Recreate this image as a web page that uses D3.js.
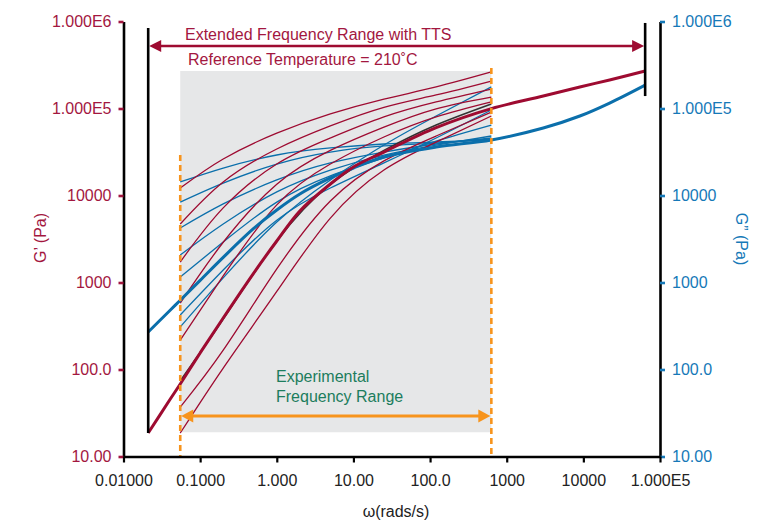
<!DOCTYPE html>
<html><head><meta charset="utf-8">
<script src="https://cdn.jsdelivr.net/npm/d3@7"></script>
<style>
body{margin:0;background:#fff}
svg{display:block;font-family:"Liberation Sans",Arial,Helvetica,sans-serif}
</style>
</head><body>
<svg id="chart" width="782" height="520"></svg>
<script>
// ---------- data ----------
const xTickValues = [0.01, 0.1, 1, 10, 100, 1000, 10000, 100000];
const xTickLabels = ["0.01000", "0.1000", "1.000", "10.00", "100.0", "1000", "10000", "1.000E5"];
const yTickValues = [10, 100, 1000, 10000, 100000, 1000000];
const yTickLabels = ["10.00", "100.0", "1000", "10000", "1.000E5", "1.000E6"];

// master curves (TTS shifted, reference 210 °C)
const masterOmega = [0.021, 0.04, 0.055, 0.1, 0.2, 0.5, 1, 2, 5, 10, 25, 120, 630, 3000, 9000, 22000, 64000];
const masterGp  = [18.6, 44.6, 68.1, 155, 391, 1285, 3000, 6640, 13550, 21300, 31600, 60300, 99800, 139000, 177000, 213000, 270000];
const masterGpp = [270, 474, 626, 1057, 1945, 4180, 6810, 10400, 15900, 20700, 27700, 36100, 43500, 59700, 82000, 115600, 186000];

// individual temperature runs over the experimental range
const expOmega = [0.055, 0.2, 1, 5, 25, 120, 630];
const gp1 = [12200, 26300, 52000, 86500, 128000, 177000, 263000];
const gp2 = [4700, 14300, 34200, 63000, 103000, 143000, 207000];
const gp3 = [1720, 7200, 23000, 45800, 80000, 119000, 167000];
const gp4 = [580, 2900, 13500, 33000, 61000, 99000, 135000];
const gp5 = [218, 1190, 7800, 23000, 47000, 80000, 119000];
const gp6 = [37, 167, 1430, 8650, 25000, 48300, 91000];
const gp7 = [18.6, 104, 790, 5500, 19600, 41000, 82000];
const gpRef = [74, 380, 3000, 13400, 33000, 64600, 112700];
const gpp1 = [14300, 20700, 29200, 35200, 39100, 41200, 43500];
const gpp2 = [8400, 13900, 23000, 31600, 37100, 40100, 44600];
const gpp3 = [4230, 8000, 15100, 23700, 31600, 39100, 45800];
const gpp4 = [2070, 4700, 11000, 19600, 29200, 38000, 48300];
const gpp5 = [1160, 2920, 8400, 16800, 27000, 42300, 64600];
const gpp6 = [423, 1390, 5200, 12200, 23700, 45800, 96000];
const gpp7 = [308, 1130, 4950, 15100, 38000, 82000, 177000];

// annotation extents (data units)
const expRange = [0.055, 630];        // experimental frequency range
const ttsRange = [0.021, 64000];      // extended range with TTS

// ---------- drawing ----------
const RED = "#9e0b31", RED_TXT = "#a3173f", BLUE = "#0b6fab", BLUE_TXT = "#1679b8",
      ORANGE = "#f7941d", GREEN = "#1c7d5d", GREY = "#e6e7e8";

const svg = d3.select("#chart");
const x = d3.scaleLog().domain([0.01, 1e5]).range([123.5, 660]);
const y = d3.scaleLog().domain([10, 1e6]).range([456.5, 21.5]);

const thinLine = d3.line().x(d => x(d[0])).y(d => y(d[1])).curve(d3.curveNatural);
const masterLine = d3.line().x(d => x(d[0])).y(d => y(d[1])).curve(d3.curveCatmullRom.alpha(0.5));
const zip = (a, b) => a.map((v, i) => [v, b[i]]);

// grey experimental window
svg.append("rect")
  .attr("x", x(expRange[0])).attr("y", y(270000))
  .attr("width", x(expRange[1]) - x(expRange[0]))
  .attr("height", y(19) - y(270000))
  .attr("fill", GREY);

// thin runs
const gppRuns = [gpp1, gpp2, gpp3, gpp4, gpp5, gpp6, gpp7];
const gpRuns = [gp1, gp2, gp3, gp4, gp5, gp6, gp7];
const thin = svg.append("g").attr("fill", "none").attr("stroke-width", 1.3);
gppRuns.forEach(s => thin.append("path").attr("d", thinLine(zip(expOmega, s))).attr("stroke", BLUE));
gpRuns.forEach(s => thin.append("path").attr("d", thinLine(zip(expOmega, s))).attr("stroke", RED));
thin.append("path").attr("d", thinLine(zip(expOmega, gpRef))).attr("stroke", "#333").attr("stroke-width", 1.6);

// master curves
svg.append("path").attr("d", masterLine(zip(masterOmega, masterGpp)))
  .attr("fill", "none").attr("stroke", BLUE).attr("stroke-width", 3);
svg.append("path").attr("d", masterLine(zip(masterOmega, masterGp)))
  .attr("fill", "none").attr("stroke", RED).attr("stroke-width", 3);

// orange dashed limits
svg.append("line").attr("x1", x(expRange[0])).attr("x2", x(expRange[0]))
  .attr("y1", y(29200)).attr("y2", y(10))
  .attr("stroke", ORANGE).attr("stroke-width", 2.6).attr("stroke-dasharray", "6,4");
svg.append("line").attr("x1", x(expRange[1])).attr("x2", x(expRange[1]))
  .attr("y1", y(292000)).attr("y2", y(10))
  .attr("stroke", ORANGE).attr("stroke-width", 2.6).attr("stroke-dasharray", "6,4");

// black bars of the TTS range
svg.append("line").attr("x1", x(ttsRange[0])).attr("x2", x(ttsRange[0]))
  .attr("y1", y(841000)).attr("y2", y(18.6)).attr("stroke", "#000").attr("stroke-width", 2.6);
svg.append("line").attr("x1", x(ttsRange[1])).attr("x2", x(ttsRange[1]))
  .attr("y1", y(962000)).attr("y2", y(139000)).attr("stroke", "#000").attr("stroke-width", 2.6);

function doubleArrow(x1, x2, yy, color, w, hl, hw) {
  const g = svg.append("g");
  g.append("line").attr("x1", x1 + hl - 1).attr("x2", x2 - hl + 1).attr("y1", yy).attr("y2", yy)
    .attr("stroke", color).attr("stroke-width", w);
  g.append("path").attr("d", `M${x1},${yy}L${x1 + hl},${yy - hw}L${x1 + hl},${yy + hw}Z`).attr("fill", color);
  g.append("path").attr("d", `M${x2},${yy}L${x2 - hl},${yy - hw}L${x2 - hl},${yy + hw}Z`).attr("fill", color);
}
doubleArrow(x(ttsRange[0]) + 1, x(ttsRange[1]) - 1, y(522000), RED, 2.6, 12, 6);
doubleArrow(x(expRange[0]) + 1, x(expRange[1]) - 1, y(29.2), ORANGE, 3, 12, 6.5);

// axes
const fs = "16px";
const left = svg.append("g").attr("transform", "translate(123.5,0)")
  .call(d3.axisLeft(y).tickValues(yTickValues).tickFormat((d, i) => yTickLabels[i]).tickSize(5).tickSizeOuter(0).tickPadding(7));
left.select(".domain").attr("stroke", "#000").attr("stroke-width", 2.6);
left.selectAll(".tick line").attr("stroke", RED_TXT).attr("stroke-width", 2.6);
left.selectAll(".tick text").attr("fill", RED_TXT).style("font-size", fs).style("font-family", "inherit");

const right = svg.append("g").attr("transform", "translate(660,0)")
  .call(d3.axisRight(y).tickValues(yTickValues).tickFormat((d, i) => yTickLabels[i]).tickSize(5).tickSizeOuter(0).tickPadding(7));
right.select(".domain").attr("stroke", "#000").attr("stroke-width", 2.6);
right.selectAll(".tick line").attr("stroke", BLUE_TXT).attr("stroke-width", 2.6);
right.selectAll(".tick text").attr("fill", BLUE_TXT).style("font-size", fs).style("font-family", "inherit");

const bottom = svg.append("g").attr("transform", "translate(0,456.5)")
  .call(d3.axisBottom(x).tickValues(xTickValues).tickFormat((d, i) => xTickLabels[i]).tickSize(6).tickSizeOuter(0).tickPadding(12));
bottom.select(".domain").attr("stroke", "#000").attr("stroke-width", 2.6);
bottom.selectAll(".tick line").attr("stroke", "#000").attr("stroke-width", 2.2);
bottom.selectAll(".tick text").attr("fill", "#222").style("font-size", fs).style("font-family", "inherit");

// titles and annotations
svg.append("text").attr("x", 396).attr("y", 517).attr("text-anchor", "middle")
  .attr("fill", "#222").style("font-size", fs).text("ω(rads/s)");
svg.append("text").attr("transform", "translate(46,238) rotate(-90)").attr("text-anchor", "middle")
  .attr("fill", RED_TXT).style("font-size", fs).text("G’ (Pa)");
svg.append("text").attr("transform", "translate(736,239) rotate(90)").attr("text-anchor", "middle")
  .attr("fill", BLUE_TXT).style("font-size", fs).text("G” (Pa)");

svg.append("text").attr("x", 185).attr("y", 40).attr("fill", RED_TXT).style("font-size", fs)
  .text("Extended Frequency Range with TTS");
svg.append("text").attr("x", 188).attr("y", 65).attr("fill", RED_TXT).style("font-size", fs)
  .text("Reference Temperature = 210˚C");
svg.append("text").attr("x", 276).attr("y", 382).attr("fill", GREEN).style("font-size", fs)
  .text("Experimental");
svg.append("text").attr("x", 276).attr("y", 402).attr("fill", GREEN).style("font-size", fs)
  .text("Frequency Range");
</script>
</body></html>
